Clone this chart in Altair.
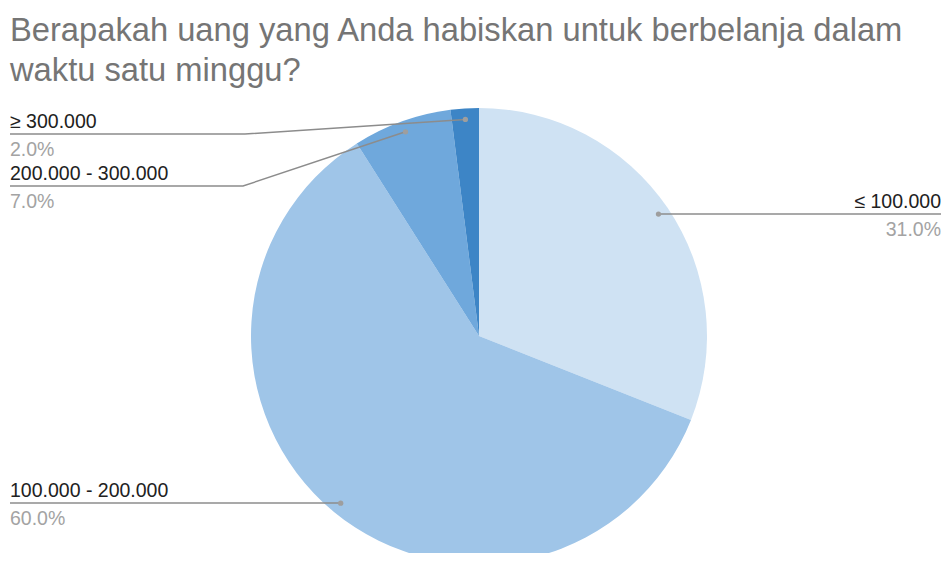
import math
import altair as alt
import pandas as pd

# ---- data ----
categories = ["≤ 100.000", "100.000 - 200.000", "200.000 - 300.000", "≥ 300.000"]
values = [31, 60, 7, 2]
colors = ["#cfe2f3", "#9fc5e8", "#6fa8dc", "#3d85c6"]
title_lines = ["Berapakah uang yang Anda habiskan untuk berbelanja dalam", "waktu satu minggu?"]

# ---- layout (chart coordinates, page offset 8px) ----
W, H = 933, 545
OFF = 8
cx, cy = 479 - OFF, 336 - OFF
R = 228
RDOT = 217
line_y = [214, 503, 186, 134]          # page y of the horizontal leader lines
side = ["right", "left", "left", "left"]
elbow_x = [None, None, 243, 245]
left_x, right_x = 10, 941

total = sum(values)
pie_df = pd.DataFrame({"category": categories, "value": values, "idx": range(len(values))})

line_rows, dot_rows, lab_rows, pct_rows = [], [], [], []
cum = 0
for i, (c, v) in enumerate(zip(categories, values)):
    mid = (cum + v / 2) / total * 2 * math.pi
    cum += v
    dx = cx + RDOT * math.sin(mid)
    dy = cy - RDOT * math.cos(mid)
    dot_rows.append({"px": dx, "py": dy})
    ly = line_y[i] - OFF
    pts = [(dx, dy)]
    if elbow_x[i] is not None:
        pts.append((elbow_x[i] - OFF, ly))
    else:
        pts[0] = (dx, ly) if abs(dy - ly) < 3 else pts[0]
    end_x = (right_x if side[i] == "right" else left_x) - OFF
    pts.append((end_x, ly))
    for k, (px, py) in enumerate(pts):
        line_rows.append({"seg": c, "ord": k, "px": px, "py": py})
    lab_rows.append({"px": end_x, "py": ly - 6.5, "text": c, "side": side[i]})
    pct_rows.append({"px": end_x, "py": ly + 21.5, "text": f"{v / total * 100:.1f}%", "side": side[i]})

lines_df = pd.DataFrame(line_rows)
dots_df = pd.DataFrame(dot_rows)
lab_df = pd.DataFrame(lab_rows)
pct_df = pd.DataFrame(pct_rows)
title_df = pd.DataFrame({"text": title_lines, "px": [10 - OFF] * 2, "py": [41 - OFF, 81 - OFF]})

xs = alt.Scale(domain=[0, W], nice=False, zero=False)
ys = alt.Scale(domain=[0, H], nice=False, zero=False, reverse=True)
X = lambda: alt.X("px:Q", scale=xs, axis=None)
Y = lambda: alt.Y("py:Q", scale=ys, axis=None)
FONT = "Liberation Sans"

pie = alt.Chart(pie_df).mark_arc(outerRadius=R).encode(
    theta=alt.Theta("value:Q", stack=True),
    color=alt.Color("category:N", scale=alt.Scale(domain=categories, range=colors), legend=None),
    order=alt.Order("idx:Q"),
    x=alt.value(cx),
    y=alt.value(cy),
)

leaders = alt.Chart(lines_df).mark_line(color="#8c8c8c", strokeWidth=1.5).encode(
    x=X(), y=Y(), detail="seg:N", order="ord:Q"
)
dots = alt.Chart(dots_df).mark_circle(color="#9e9e9e", size=28, opacity=1).encode(x=X(), y=Y())

def text_layer(df, align, color):
    return alt.Chart(df[df["side"] == align]).mark_text(
        align=align, baseline="alphabetic", font=FONT, fontSize=19.5, color=color
    ).encode(x=X(), y=Y(), text="text:N")

layers = [
    pie, leaders, dots,
    text_layer(lab_df, "left", "#212121"), text_layer(lab_df, "right", "#212121"),
    text_layer(pct_df, "left", "#a3a3a3"), text_layer(pct_df, "right", "#a3a3a3"),
    alt.Chart(title_df).mark_text(
        align="left", baseline="alphabetic", font=FONT, fontSize=32.7, color="#757575"
    ).encode(x=X(), y=Y(), text="text:N"),
]

chart = alt.layer(*layers).properties(
    width=W, height=H, autosize=alt.AutoSizeParams(type="none"), padding=0, background="white"
).configure_view(stroke=None)

chart.save("out.html", embed_options={"renderer": "svg", "actions": False})
